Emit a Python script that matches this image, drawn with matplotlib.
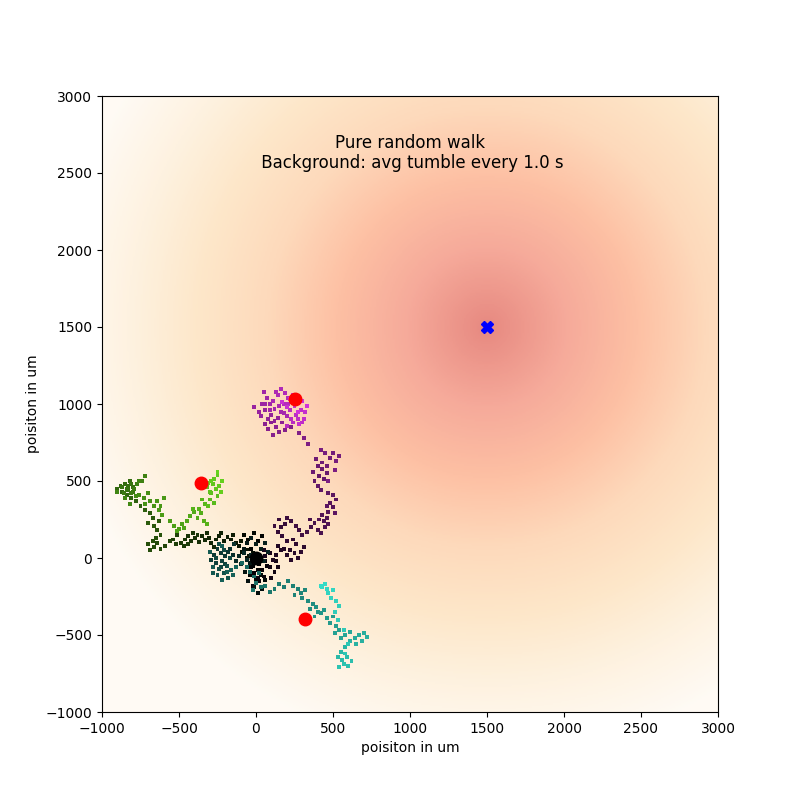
import numpy as np
import matplotlib
matplotlib.use('Agg')
import matplotlib.pyplot as plt
from matplotlib.colors import LinearSegmentedColormap

# Source of attractant and start point of the walks
source = (1500, 1500)
start = (0, 0)
field_radius = 2800  # background goes to zero this far from the source (um)

# Walk 1 (purple), (x, y) in um, in time order
walk_purple = np.array([
    (0, 0), (20, -40), (-30, -60), (-10, -100), (40, -80), (70, -50), (50, -120), (20, -150), (-20, -180), (10, -130),
    (60, -20), (90, -60), (120, -90), (100, -130), (140, -60), (130, -20), (30, -20), (60, 10), (50, 50), (90, 30),
    (110, -10), (130, 20), (160, 50), (140, 80), (180, 60), (200, 20), (220, 50), (250, 30), (230, -10), (270, 0),
    (290, 40), (310, 70), (260, 90), (240, 120), (200, 110), (170, 140), (140, 170), (160, 200), (190, 220), (150, 250),
    (120, 210), (200, 260), (230, 240), (260, 210), (280, 180), (300, 150), (330, 170), (360, 200), (380, 230), (350, 250),
    (400, 180), (420, 160), (450, 200), (440, 240), (470, 220), (460, 260), (430, 280), (410, 250), (470, 300), (500, 330),
    (480, 360), (520, 380), (500, 410), (460, 340), (510, 290), (470, 420), (420, 440), (400, 470), (380, 500), (410, 530),
    (440, 510), (460, 550), (430, 580), (400, 600), (370, 560), (390, 640), (430, 620), (460, 600), (480, 650), (500, 680),
    (540, 660), (520, 630), (450, 680), (420, 700), (510, 570), (470, 500), (340, 740), (310, 780), (280, 810), (230, 850),
    (190, 830), (150, 820), (110, 800), (80, 840), (60, 870), (100, 880), (130, 850), (170, 880), (120, 890), (80, 900),
    (140, 910), (100, 930), (60, 960), (30, 920), (20, 950), (-10, 980), (40, 1000), (60, 1000), (70, 1040), (50, 1080),
    (90, 1000), (90, 960), (120, 970), (160, 950), (180, 940), (200, 920), (150, 990), (110, 1020), (130, 1080), (140, 1060),
    (160, 1100), (190, 1070), (210, 1040), (180, 1000), (210, 1000), (220, 960), (200, 860), (240, 880), (230, 900), (260, 930),
    (270, 900), (300, 880), (290, 960), (310, 900), (320, 950), (280, 870), (250, 990), (200, 980), (170, 1010), (260, 1010),
    (240, 1060), (300, 1020), (330, 990), (270, 950), (220, 1030)])

# Walk 2 (green)
walk_green = np.array([
    (0, 0), (-30, 60), (10, 110), (40, 140), (-10, 160), (-50, 120), (-80, 150), (-60, 0), (-30, -40), (-20, 30),
    (-45, 15), (-60, 55), (-90, 40), (-110, 80), (-95, 110), (-130, 95), (-160, 120), (-150, 150), (-185, 135), (-210, 110),
    (-240, 140), (-225, 165), (-260, 120), (-290, 100), (-270, 70), (-305, 130), (-330, 115), (-350, 140), (-320, 160), (-370, 105),
    (-395, 130), (-420, 110), (-440, 140), (-410, 160), (-380, 150), (-460, 120), (-490, 100), (-470, 75), (-440, 90), (-520, 90),
    (-540, 120), (-510, 150), (-560, 110), (-590, 80), (-620, 60), (-640, 95), (-660, 70), (-690, 50), (-670, 110), (-700, 90),
    (-650, 130), (-620, 150), (-640, 180), (-660, 210), (-630, 240), (-670, 260), (-700, 230), (-690, 290), (-720, 310), (-750, 340),
    (-780, 370), (-810, 390), (-840, 410), (-870, 430), (-900, 450), (-880, 470), (-850, 480), (-820, 500), (-800, 460), (-830, 440),
    (-830, 470), (-810, 480), (-840, 450), (-870, 460), (-800, 430), (-860, 420), (-810, 420), (-790, 450), (-770, 480), (-740, 500),
    (-720, 530), (-760, 500), (-900, 430), (-850, 390), (-820, 350), (-780, 400), (-760, 410), (-730, 390), (-700, 420), (-690, 370),
    (-720, 350), (-660, 340), (-640, 370), (-620, 340), (-600, 390), (-630, 310), (-610, 280), (-560, 240), (-530, 210), (-500, 190),
    (-480, 220), (-510, 175), (-470, 195), (-450, 240), (-430, 270), (-400, 300), (-380, 260), (-360, 290), (-340, 240), (-320, 220),
    (-410, 320), (-370, 320), (-350, 380), (-330, 350), (-300, 380), (-270, 360), (-250, 400), (-290, 420), (-310, 340), (-320, 460),
    (-300, 430), (-280, 480), (-260, 450), (-240, 470), (-270, 510), (-250, 540), (-290, 500), (-230, 430), (-220, 500), (-310, 490),
    (-250, 560)])

# Walk 3 (teal)
walk_teal = np.array([
    (0, 0), (-20, -50), (10, -80), (-40, -110), (0, -140), (30, -110), (60, -140), (40, -200), (10, -230), (-10, -190),
    (-50, -150), (-70, -90), (-40, -30), (-80, 60), (-60, 100), (-30, 130), (0, 90), (30, 60), (60, 100), (80, 40),
    (50, -20), (-30, 20), (-60, -10), (-80, 30), (-110, 10), (-130, -20), (-100, -40), (-150, 20), (-170, 60), (-140, 90),
    (-180, 40), (-200, 10), (-230, 30), (-250, 60), (-270, 20), (-290, -10), (-260, -30), (-220, -20), (-200, -40), (-230, -60),
    (-260, 0), (-210, 50), (-170, 0), (-240, 90), (-190, -50), (-240, -70), (-210, -100), (-180, -130), (-250, -110), (-280, -100),
    (-280, -60), (-300, 40), (-220, 80), (-190, -90), (-150, -110), (-220, -140), (-160, -80), (-130, -60), (-90, -30), (-60, -60),
    (-40, -90), (-10, -120), (20, -100), (0, -160), (30, -190), (-20, -210), (60, -180), (90, -220), (120, -200), (150, -170),
    (180, -190), (210, -150), (240, -180), (270, -200), (250, -240), (290, -230), (320, -210), (300, -260), (340, -280), (370, -300),
    (350, -330), (390, -320), (400, -350), (380, -380), (420, -360), (440, -340), (460, -390), (480, -420), (500, -380), (520, -440),
    (540, -470), (510, -490), (550, -520), (580, -500), (610, -480), (640, -520), (670, -500), (700, -490), (720, -510), (690, -540),
    (650, -560), (610, -540), (580, -580), (550, -610), (530, -640), (560, -660), (590, -640), (620, -670), (600, -700), (570, -690),
    (540, -710), (580, -620), (600, -560), (570, -470), (530, -400), (510, -350), (540, -310), (520, -280), (490, -260), (470, -230),
    (500, -210), (460, -200), (430, -190), (450, -170), (420, -180)])

# Where each cell sits at the end of the run
end_x = [250, -360, 318]
end_y = [1030, 490, -395]

walks = [(walk_purple, '#d232dc'),
         (walk_green, '#66d21e'),
         (walk_teal, '#33dcc8')]

fig, ax = plt.subplots(figsize=(8, 8), dpi=100)

# Background: attractant concentration around the source
gx = np.linspace(-1000, 3000, 400)
gy = np.linspace(-1000, 3000, 400)
GX, GY = np.meshgrid(gx, gy)
dist = np.sqrt((GX - source[0])**2 + (GY - source[1])**2)
conc = np.clip(1 - dist / field_radius, 0, None)
ax.imshow(conc, extent=[-1000, 3000, -1000, 3000], origin='lower', cmap='OrRd',
          alpha=0.55, vmin=0, vmax=1.3)

# Walks, colour goes from black (start) to the walk colour (end)
for pts, col in walks:
    cmap = LinearSegmentedColormap.from_list('walk', ['black', col])
    t = np.linspace(0, 1, len(pts))
    ax.scatter(pts[:, 0], pts[:, 1], c=t, cmap=cmap, marker='s', s=8, linewidths=0)

ax.plot(start[0], start[1], 'o', color='black', markersize=9)
ax.plot(end_x, end_y, 'o', color='red', markersize=9, linestyle='none')
ax.plot(source[0], source[1], 'X', color='blue', markersize=9)

ax.text(1000, 2630, 'Pure random walk\n Background: avg tumble every 1.0 s',
        ha='center', va='center', fontsize=12)

ax.set_xlim(-1000, 3000)
ax.set_ylim(-1000, 3000)
ax.set_xlabel('poisiton in um')
ax.set_ylabel('poisiton in um')

plt.savefig('out.png')
